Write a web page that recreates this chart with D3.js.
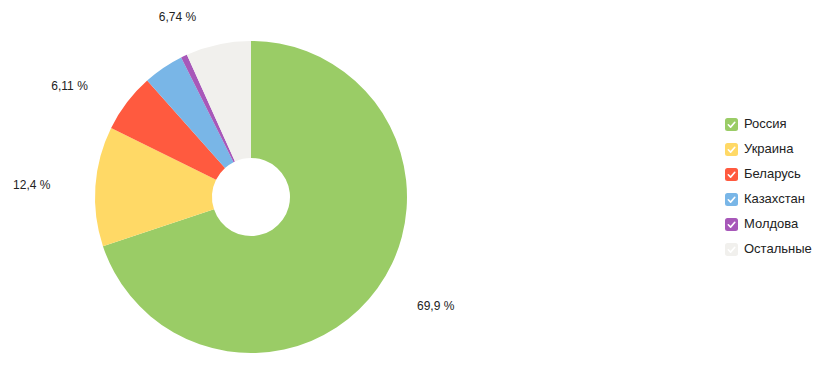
<!DOCTYPE html>
<html><head><meta charset="utf-8">
<script src="https://cdn.jsdelivr.net/npm/d3@7"></script>
<style>body{margin:0;background:#fff}svg{display:block}</style>
</head><body>
<svg id="c" width="826" height="378"></svg>
<script>
const categories = ["Россия","Украина","Беларусь","Казахстан","Молдова","Остальные"];
const values = [69.9, 12.4, 6.11, 4.2, 0.65, 6.74];
const labels = ["69,9 %","12,4 %","6,11 %",null,null,"6,74 %"];
const colors = ["#9acc66","#ffd966","#ff5a3f","#79b6e7","#a758b9","#f1f0ed"];

const svg = d3.select("#c");
const cx = 251, cy = 197, R = 156, r0 = 39;
const g = svg.append("g").attr("transform",`translate(${cx},${cy})`);
const pie = d3.pie().sort(null).value(d=>d.v);
const arcs = pie(categories.map((c,i)=>({c, v: values[i], i})));
const arc = d3.arc().innerRadius(r0).outerRadius(R);
g.selectAll("path.s").data(arcs).join("path").attr("class","s")
  .attr("d",arc).attr("fill",d=>colors[d.data.i]);

const lr = 185, off = 16;
g.selectAll("text.l").data(arcs.filter(d=>labels[d.data.i])).join("text").attr("class","l")
  .each(function(d){
    const a = (d.startAngle+d.endAngle)/2;
    const x = lr*Math.sin(a), y = -lr*Math.cos(a);
    const right = x >= 0;
    d3.select(this).attr("x", x + (right?off:-off)).attr("y", y+2)
      .attr("text-anchor", right?"start":"end")
      .attr("dominant-baseline","middle");
  })
  .text(d=>labels[d.data.i])
  .attr("font-family","Arial, 'Liberation Sans', sans-serif").attr("font-size",12).attr("fill","#222");

const leg = svg.append("g").attr("transform","translate(725,118)");
const items = leg.selectAll("g").data(categories).join("g")
  .attr("transform",(d,i)=>`translate(0,${i*25})`);
items.append("rect").attr("width",13).attr("height",13).attr("rx",2.5).attr("fill",(d,i)=>colors[i]);
items.append("path").attr("d","M3.3,6.8 L5.6,9.1 L9.8,4.3").attr("fill","none")
  .attr("stroke","#fff").attr("stroke-width",1.6).attr("stroke-linecap","round").attr("stroke-linejoin","round");
items.append("text").attr("x",19).attr("y",6.5).attr("dominant-baseline","middle")
  .attr("font-family","Arial, 'Liberation Sans', sans-serif").attr("font-size",13).attr("fill","#222")
  .text(d=>d);
</script>
</body></html>
